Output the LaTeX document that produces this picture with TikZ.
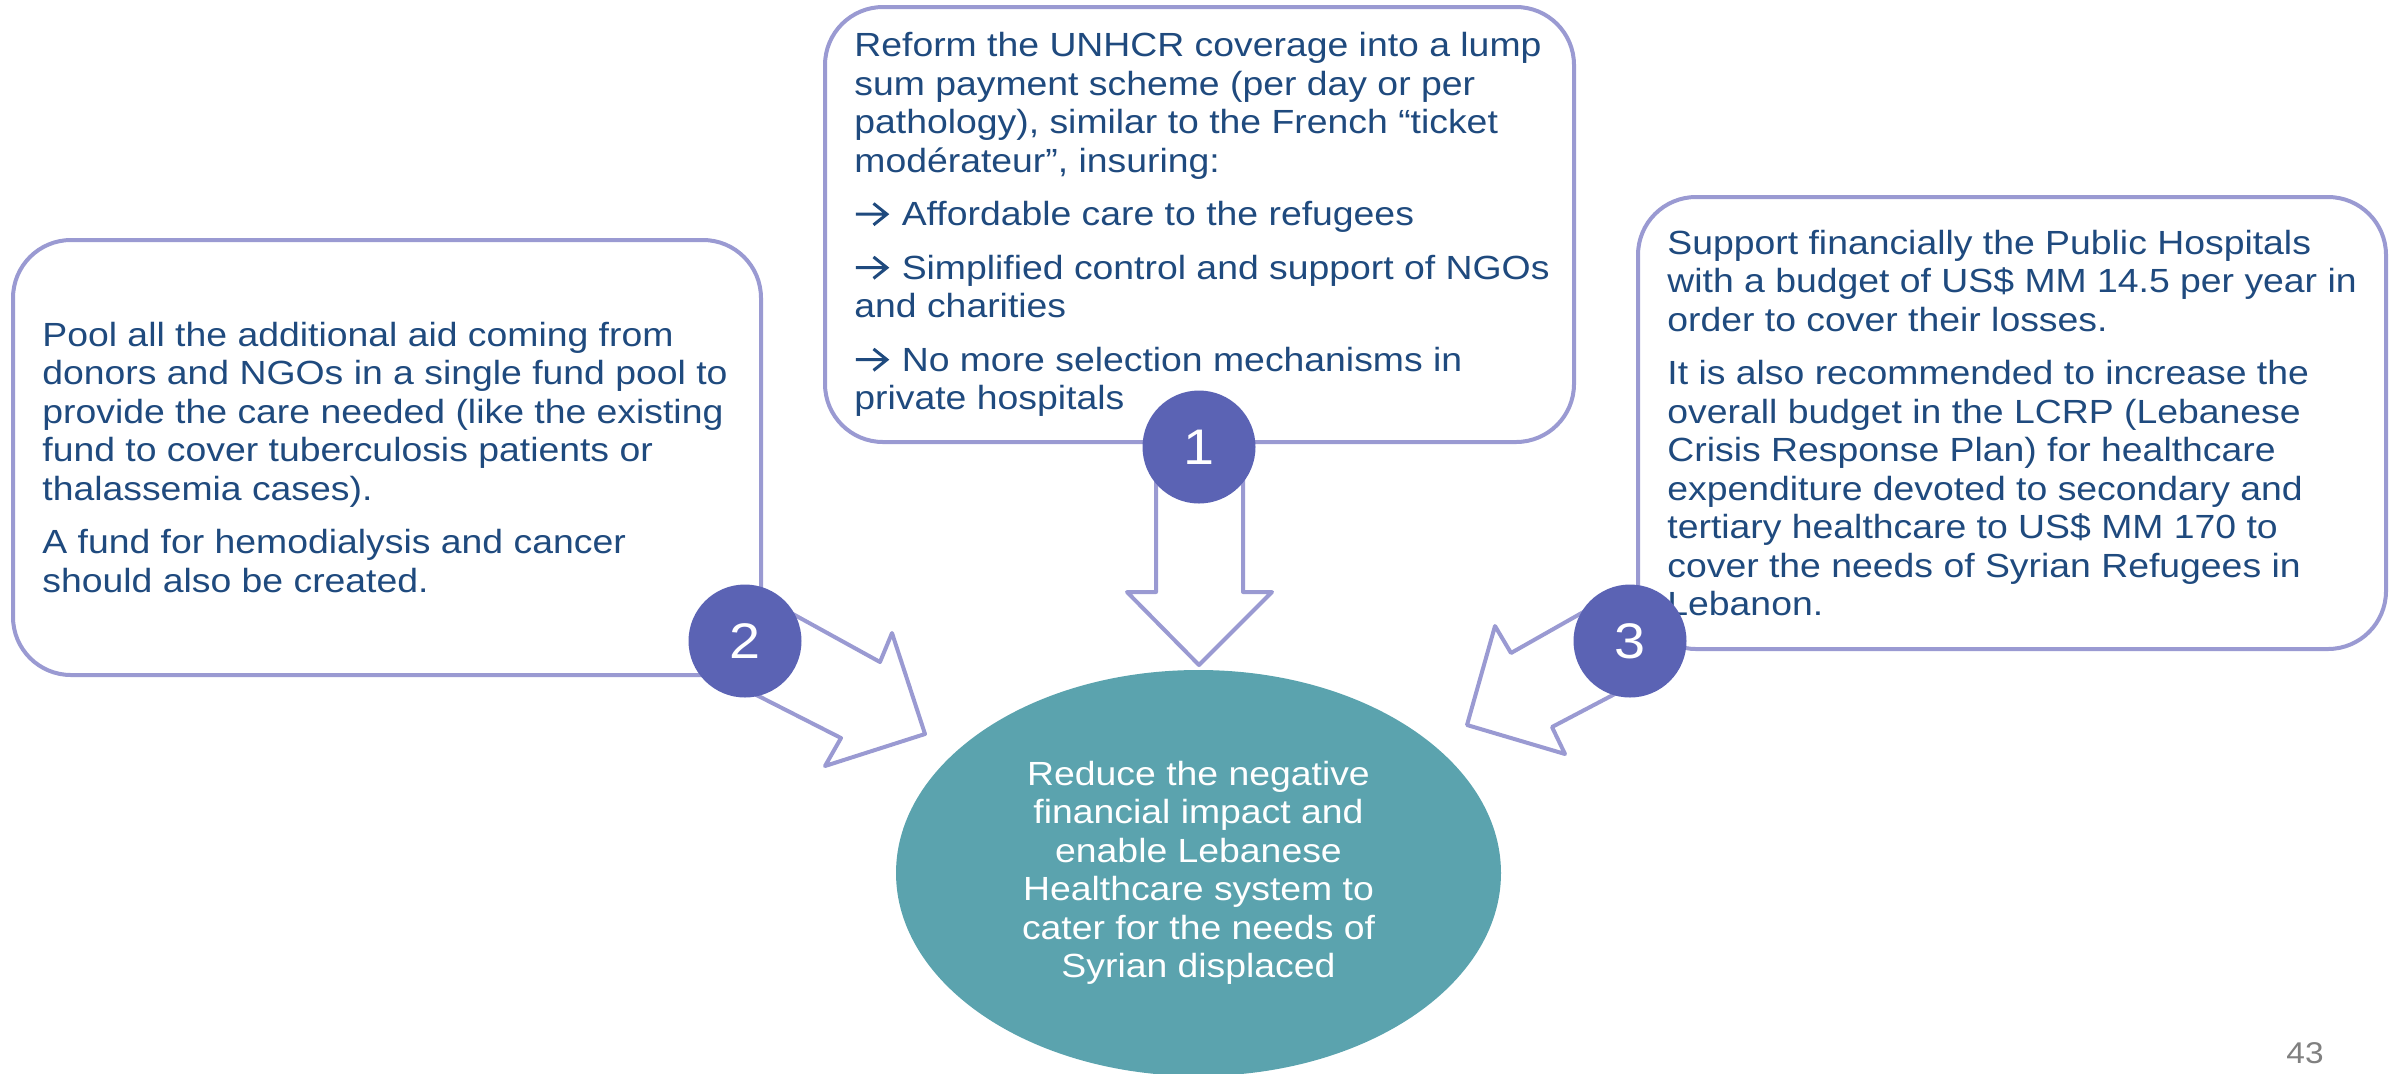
\documentclass[tikz,border=0pt]{standalone}
\usepackage{fontspec}
\setmainfont[FakeStretch=1.115]{Liberation Sans}
\usetikzlibrary{calc,shapes.geometric}
\definecolor{lav}{HTML}{9A9AD2}
\definecolor{numc}{HTML}{5B63B4}
\definecolor{txtc}{HTML}{1F4A7E}
\definecolor{ellc}{HTML}{5BA3AE}
\definecolor{pgc}{HTML}{808080}
\newcommand\bularrow{\tikz[baseline=0pt,x=1pt,y=1pt]{\draw[txtc,line width=1.5pt,line cap=butt,line join=miter] (0.5,5.75) -- (16,5.75) (9.3,0.4) -- (16,5.75) -- (9.3,11.1);}\hspace{1.5pt}}
\begin{document}
\begin{tikzpicture}[x=0.5pt,y=-0.5pt,
  box/.style={draw=lav, line width=2pt, rounded corners=29pt, fill=white, inner sep=0pt},
  body/.style={align=left, text=txtc, inner sep=0pt, anchor=west, font=\fontsize{16.75}{19.25}\selectfont},
  numdot/.style={circle, fill=numc, minimum size=56.5pt, inner sep=0pt, text=white, font=\fontsize{25}{30}\selectfont},
  blockarrow/.style={draw=lav, line width=2pt, fill=white, line join=round},
  goalnode/.style={ellipse, fill=ellc, minimum width=302.5pt, minimum height=203pt, inner sep=0pt, align=center, text=white, font=\fontsize{16.75}{19.25}\selectfont}]
\useasboundingbox (0,0) rectangle (2399,1073);

% boxes
\node[box, minimum width=374.5pt, minimum height=217.5pt] (b1) at (1199.5,224.5) {};
\node[box, minimum width=374pt, minimum height=217.5pt] (b2) at (387,457.5) {};
\node[box, minimum width=374pt, minimum height=226pt] (b3) at (2012,423) {};

% texts
\node[body] (t1) at ($(b1.west)+(31,0)$) {Reform the UNHCR coverage into a lump\\
sum payment scheme (per day or per\\
pathology), similar to the French “ticket\\
modérateur”, insuring:\\[7.5pt]
\bularrow{} Affordable care to the refugees\\[7.5pt]
\bularrow{} Simplified control and support of NGOs\\
and charities\\[7.5pt]
\bularrow{} No more selection mechanisms in\\
private hospitals};

\node[body] (t2) at ($(b2.west)+(31,0)$) {Pool all the additional aid coming from\\
donors and NGOs in a single fund pool to\\
provide the care needed (like the existing\\
fund to cover tuberculosis patients or\\
thalassemia cases).\\[7.5pt]
A fund for hemodialysis and cancer\\
should also be created.};

\node[body] (t3) at ($(b3.west)+(31,0)$) {Support financially the Public Hospitals\\
with a budget of US\$ MM 14.5 per year in\\
order to cover their losses.\\[7.5pt]
It is also recommended to increase the\\
overall budget in the LCRP (Lebanese\\
Crisis Response Plan) for healthcare\\
expenditure devoted to secondary and\\
tertiary healthcare to US\$ MM 170 to\\
cover the needs of Syrian Refugees in\\
Lebanon.};

% block arrows
\draw[blockarrow] (1156,430) -- (1156,592) -- (1127,592) -- (1199,665) -- (1272,592) -- (1243,592) -- (1243,430) -- cycle;
\draw[blockarrow] (762,597) -- (880,662) -- (892,633) -- (925,734) -- (825,766) -- (841,738) -- (723,678) -- cycle;
\draw[blockarrow] (1624,589) -- (1511,653) -- (1495,626) -- (1467,725) -- (1565,754) -- (1552,727) -- (1651,675) -- cycle;

% numbered circles
\node[numdot] (n1) at (1199,447) {1};
\node[numdot] (n2) at (745,641) {2};
\node[numdot] (n3) at (1630,641) {3};

% goal
\node[goalnode] (goal) at (1198.5,873) {Reduce the negative\\
financial impact and\\
enable Lebanese\\
Healthcare system to\\
cater for the needs of\\
Syrian displaced};

\node[text=pgc, inner sep=0pt, anchor=base, font=\fontsize{15}{18}\selectfont] (pg) at (2305,1063) {43};
\end{tikzpicture}
\end{document}
